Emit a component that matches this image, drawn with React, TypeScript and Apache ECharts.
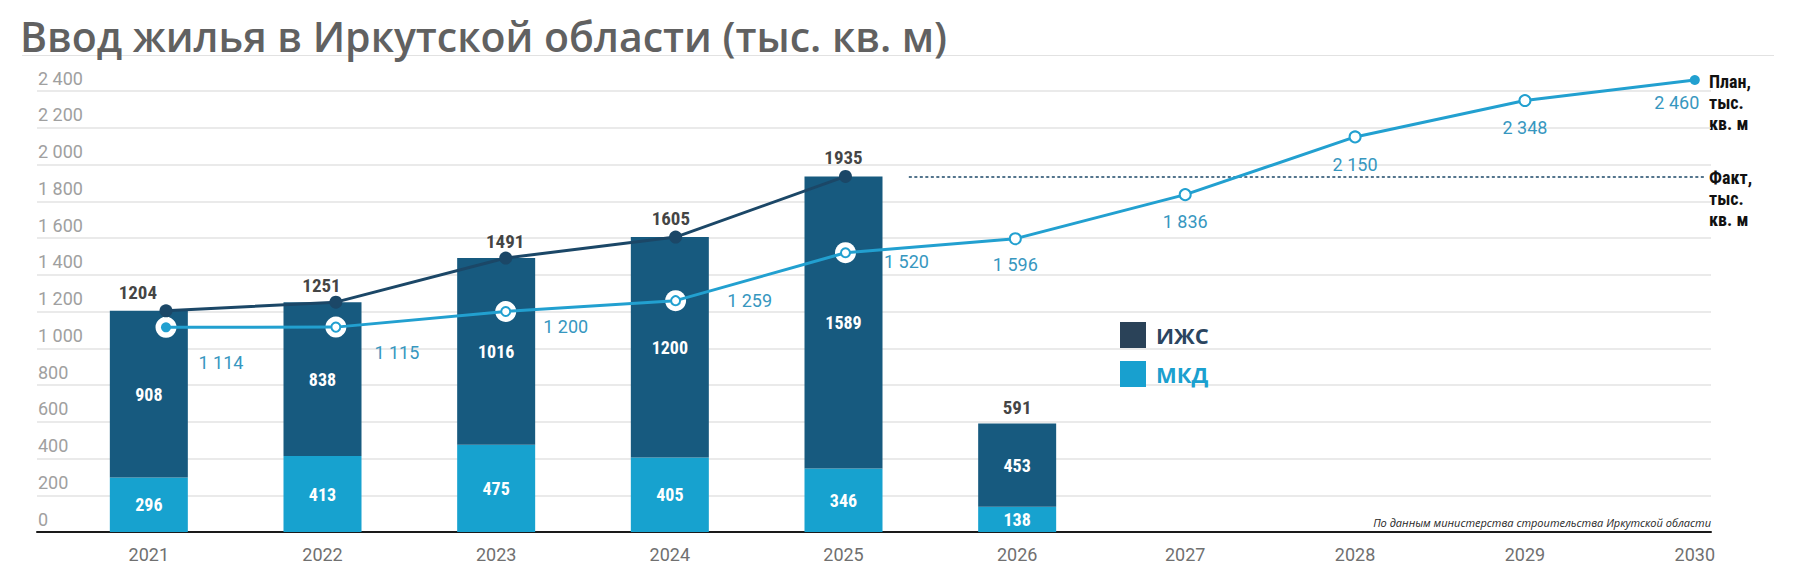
import React, { useEffect, useRef } from 'react';
import * as echarts from 'echarts';

// ---- data ----
const years = ['2021', '2022', '2023', '2024', '2025', '2026', '2027', '2028', '2029', '2030'];
const barYears = ['2021', '2022', '2023', '2024', '2025', '2026'];
const mkdValues = [296, 413, 475, 405, 346, 138];
const izhsValues = [908, 838, 1016, 1200, 1589, 453];
const factYears = ['2021', '2022', '2023', '2024', '2025'];
const factValues = [1204, 1251, 1491, 1605, 1935];
const planValues = [1114, 1115, 1200, 1259, 1520, 1596, 1836, 2150, 2348, 2460];
const yMin = 0;
const yMax = 2400;
const yStep = 200;

// ---- label placement (styling) ----
const planLabelOffsets = [[55, 35], [61, 25], [60, 15], [74, 0], [61, 9], [0, 26], [0, 27], [0, 28], [0, 27], [-18, 23]];
const totalLabelOffsets = [[-11, -18], [-1, -17], [9, -17], [1, -19], [0, -19], [0, -16]];

const fmt = (v: number) => String(v).replace(/\B(?=(\d{3})+(?!\d))/g, ' ');

const C_IZHS = '#175a7f';
const C_MKD = '#17a2cf';
const C_FACT = '#1b4767';
const C_PLAN = '#22a0d0';
const C_PLAN_LABEL = '#3797bf';
const NARROW = '"Roboto Condensed", "Liberation Sans Narrow", "Arial Narrow", Roboto, sans-serif';

export default function App() {
  const ref = useRef<HTMLDivElement>(null);

  useEffect(() => {
    document.body.style.margin = '0';
    if (!ref.current) return;
    const chart = echarts.init(ref.current, undefined, { renderer: 'svg' });

    const totals = mkdValues.map((v, i) => v + izhsValues[i]);
    const yearNum = years.map((y) => Number(y));
    const lastYear = yearNum[yearNum.length - 1];

    const barLabel = {
      show: true,
      position: 'inside' as const,
      color: '#ffffff',
      fontSize: 18,
      fontWeight: 'bold' as const,
      fontFamily: NARROW,
    };

    const hiddenY = (gridIndex: number) => ({
      type: 'value' as const,
      gridIndex,
      min: yMin,
      max: yMax,
      interval: yStep,
      show: false,
    });

    const option: any = {
      animation: false,
      backgroundColor: '#ffffff',
      grid: [
        { left: 37, right: 89, top: 91, bottom: 51 },
        { left: 62, width: 1042, top: 91, bottom: 51 },
        { left: 166, right: 95, top: 91, bottom: 51 },
      ],
      xAxis: [
        {
          type: 'value',
          gridIndex: 0,
          min: 0,
          max: 1,
          axisLine: { show: true, lineStyle: { color: '#1a1a1a', width: 2 } },
          axisTick: { show: false },
          axisLabel: { show: false },
          splitLine: { show: false },
        },
        {
          type: 'category',
          gridIndex: 1,
          data: barYears,
          axisLine: { show: false },
          axisTick: { show: false },
          axisLabel: { color: '#707070', fontSize: 18, fontFamily: 'Roboto', margin: 13 },
        },
        {
          type: 'value',
          gridIndex: 2,
          min: yearNum[0],
          max: lastYear + 0.06,
          interval: 1,
          axisLine: { show: false },
          axisTick: { show: false },
          splitLine: { show: false },
          axisLabel: {
            color: '#707070',
            fontSize: 18,
            fontFamily: 'Roboto',
            margin: 13,
            showMaxLabel: true,
            formatter: (v: number) => (Number.isInteger(v) && v > Number(barYears[barYears.length - 1]) ? String(v) : ''),
          },
        },
      ],
      yAxis: [
        {
          type: 'value',
          gridIndex: 0,
          min: yMin,
          max: yMax,
          interval: yStep,
          axisLine: { show: false },
          axisTick: { show: false },
          axisLabel: {
            inside: true,
            margin: 1,
            verticalAlign: 'bottom',
            padding: [0, 0, 4, 0],
            color: '#a0a0a0',
            fontSize: 18,
            fontFamily: 'Roboto',
            formatter: (v: number) => fmt(v),
          },
          splitLine: { show: true, lineStyle: { color: '#e3e3e3', width: 1.5 } },
        },
        hiddenY(1),
        hiddenY(2),
      ],
      legend: {
        orient: 'vertical',
        left: 1115,
        top: 317,
        itemWidth: 26,
        itemHeight: 26,
        itemGap: 13,
        icon: 'rect',
        selectedMode: false,
        textStyle: {
          fontSize: 22,
          fontWeight: 'bold',
          fontFamily: '"Open Sans", sans-serif',
          padding: [0, 0, 0, 5],
        },
        data: [
          { name: 'ИЖС', itemStyle: { color: '#2a4258' }, textStyle: { color: '#2b4560' } },
          { name: 'МКД', itemStyle: { color: '#18a0cf' }, textStyle: { color: '#1ba0cf' } },
        ],
      },
      series: [
        {
          name: 'МКД',
          type: 'bar',
          xAxisIndex: 1,
          yAxisIndex: 1,
          stack: 'total',
          barWidth: 78,
          itemStyle: { color: C_MKD },
          label: barLabel,
          data: mkdValues,
          z: 2,
        },
        {
          name: 'ИЖС',
          type: 'bar',
          xAxisIndex: 1,
          yAxisIndex: 1,
          stack: 'total',
          barWidth: 78,
          itemStyle: { color: C_IZHS },
          label: barLabel,
          data: izhsValues,
          z: 2,
        },
        {
          name: 'halo',
          type: 'scatter',
          xAxisIndex: 2,
          yAxisIndex: 2,
          symbol: 'circle',
          symbolSize: 21,
          itemStyle: { color: '#ffffff', opacity: 1 },
          silent: true,
          z: 3,
          data: factYears.map((y, i) => [Number(y), planValues[i]]),
        },
        {
          name: 'Факт',
          type: 'line',
          xAxisIndex: 2,
          yAxisIndex: 2,
          clip: false,
          symbol: 'circle',
          symbolSize: 13,
          itemStyle: { color: C_FACT },
          lineStyle: { color: C_FACT, width: 3 },
          z: 4,
          data: factYears.map((y, i) => [Number(y), factValues[i]]),
          markLine: {
            silent: true,
            symbol: ['none', 'none'],
            label: { show: false },
            lineStyle: { color: C_FACT, width: 1.5, type: [3, 2.5] },
            data: [
              [
                { coord: [2025.373, factValues[factValues.length - 1]] },
                { coord: [lastYear + 0.06, factValues[factValues.length - 1]] },
              ],
            ],
          },
        },
        {
          name: 'План',
          type: 'line',
          xAxisIndex: 2,
          yAxisIndex: 2,
          clip: false,
          itemStyle: { color: C_PLAN, borderWidth: 1 },
          lineStyle: { color: C_PLAN, width: 3 },
          z: 5,
          label: {
            show: true,
            position: 'inside',
            color: C_PLAN_LABEL,
            fontSize: 18,
            fontFamily: 'Roboto',
            formatter: (p: any) => fmt(p.value[1]),
          },
          data: planValues.map((v, i) => {
            const filled = i === 0 || i === planValues.length - 1;
            return {
              value: [yearNum[i], v],
              symbol: filled ? 'circle' : 'emptyCircle',
              symbolSize: filled ? 10 : i < factYears.length ? 9 : 11,
              label: { offset: planLabelOffsets[i] },
            };
          }),
        },
        {
          name: 'totals',
          type: 'scatter',
          xAxisIndex: 1,
          yAxisIndex: 1,
          symbolSize: 1,
          itemStyle: { color: 'rgba(0,0,0,0)' },
          silent: true,
          z: 6,
          label: {
            show: true,
            position: 'inside',
            color: '#111111',
            fontSize: 19,
            fontWeight: 'bold',
            fontFamily: NARROW,
            formatter: (p: any) => String(p.value),
          },
          data: totals.map((v, i) => ({ value: v, label: { offset: totalLabelOffsets[i] } })),
        },
      ],
      graphic: [
        {
          type: 'text',
          left: 20,
          top: 15,
          style: {
            text: 'Ввод жилья в Иркутской области (тыс. кв. м)',
            fontSize: 41,
            fontWeight: 600,
            fontFamily: '"Open Sans", sans-serif',
            fill: '#616161',
          },
        },
        {
          type: 'line',
          shape: { x1: 22, y1: 55.5, x2: 1774, y2: 55.5 },
          style: { stroke: '#e2e2e2', lineWidth: 1 },
          z: -1,
        },
        {
          type: 'text',
          x: 1709,
          y: 71,
          style: {
            text: 'План,\nтыс.\nкв. м',
            fontSize: 18,
            lineHeight: 21,
            fontWeight: 'bold',
            fontFamily: NARROW,
            fill: '#111111',
            verticalAlign: 'top',
          },
        },
        {
          type: 'text',
          x: 1709,
          y: 167,
          style: {
            text: 'Факт,\nтыс.\nкв. м',
            fontSize: 18,
            lineHeight: 21,
            fontWeight: 'bold',
            fontFamily: NARROW,
            fill: '#111111',
            verticalAlign: 'top',
          },
        },
        {
          type: 'text',
          x: 1711,
          y: 522,
          style: {
            text: 'По данным министерства строительства Иркутской области',
            fontSize: 11,
            fontStyle: 'italic',
            fontFamily: '"Open Sans", sans-serif',
            fill: '#262626',
            align: 'right',
            verticalAlign: 'middle',
          },
        },
      ],
    };

    chart.setOption(option);
    return () => {
      chart.dispose();
    };
  }, []);

  return <div ref={ref} style={{ width: 1800, height: 583 }} />;
}
